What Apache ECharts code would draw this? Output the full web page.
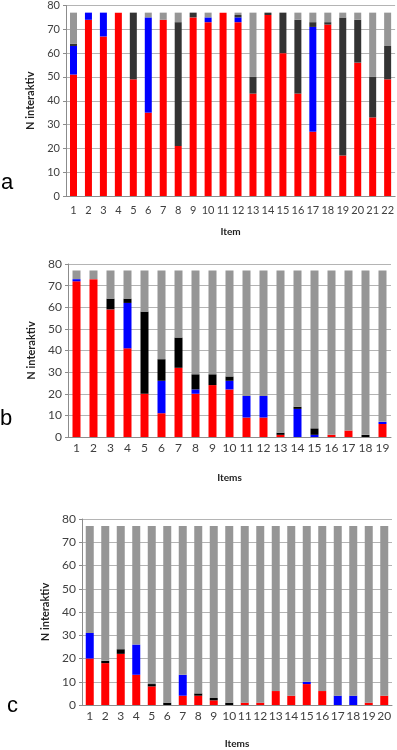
<!DOCTYPE html>
<html>
<head>
<meta charset="utf-8">
<script src="https://cdn.jsdelivr.net/npm/echarts@6/dist/echarts.min.js"></script>
<style>
  html, body { margin: 0; padding: 0; background: #fff; }
  #chart { width: 397px; height: 750px; }
</style>
</head>
<body>
<div id="chart"></div>
<script>
// panel a: 22 items
const itemsA = ['1','2','3','4','5','6','7','8','9','10','11','12','13','14','15','16','17','18','19','20','21','22']
const redA  = [51, 74, 67, 77, 49, 35, 74, 21, 75, 73, 77, 73, 43, 76, 60, 43, 27, 72, 17, 56, 33, 49]
const blueA = [12,  3, 10,  0,  0, 40,  0,  0,  0,  2,  0,  2,  0,  0,  0,  0, 44,  0,  0,  0,  0,  0]
const darkA = [ 1,  0,  0,  0, 28,  0,  0, 52,  2,  0,  0,  1,  7,  1, 17, 31,  2,  1, 58, 18, 17, 14]
const greyA = [13,  0,  0,  0,  0,  2,  3,  4,  0,  2,  0,  1, 27,  0,  0,  3,  4,  4,  2,  3, 27, 14]

// panel b: 19 items
const itemsB = ['1','2','3','4','5','6','7','8','9','10','11','12','13','14','15','16','17','18','19']
const redB  = [72, 73, 59, 41, 20, 11, 32, 20, 24, 22,  9,  9,  1,  0,  0,  1,  3,  0,  6]
const blueB = [ 1,  0,  0, 21,  0, 15,  0,  2,  0,  4, 10, 10,  0, 13,  1,  0,  0,  0,  1]
const darkB = [ 0,  0,  5,  2, 38, 10, 14,  7,  5,  2,  0,  0,  1,  1,  3,  0,  0,  1,  0]
const greyB = [ 4,  4, 13, 13, 19, 41, 31, 48, 48, 49, 58, 58, 75, 63, 73, 76, 74, 76, 70]

// panel c: 20 items
const itemsC = ['1','2','3','4','5','6','7','8','9','10','11','12','13','14','15','16','17','18','19','20']
const redC  = [20, 18, 22, 13,  8,  0,  4,  4,  2,  0,  1,  1,  6,  4,  9,  6,  0,  0,  1,  4]
const blueC = [11,  0,  0, 13,  0,  0,  9,  0,  0,  0,  0,  0,  0,  0,  1,  0,  4,  4,  0,  0]
const darkC = [ 0,  1,  2,  0,  1,  1,  0,  1,  1,  1,  0,  0,  0,  0,  0,  0,  0,  0,  0,  0]
const greyC = [46, 58, 53, 51, 68, 76, 64, 72, 74, 76, 76, 76, 71, 73, 67, 71, 73, 73, 76, 73]

const font = 'Lato, "Open Sans", sans-serif'
const gridColor = '#b4b4b4'
const axisColor = '#8c8c8c'

const panels = [
  { items: itemsA, parts: [redA, blueA, darkA, greyA], dark: '#333333', grid: { left: 66, right: 1, top: 4, height: 192 }, xName: 'Item', xGap: 31, yGap: 27, barWidth: 7, fs: 11, xMargin: 9 },
  { items: itemsB, parts: [redB, blueB, darkB, greyB], dark: '#000000', grid: { left: 68, right: 6, top: 264, height: 173 }, xName: 'Items', xGap: 36, yGap: 30, barWidth: 8, fs: 12, xMargin: 5 },
  { items: itemsC, parts: [redC, blueC, darkC, greyC], dark: '#000000', grid: { left: 82, right: 5, top: 519, height: 186 }, xName: 'Items', xGap: 34, yGap: 27, barWidth: 8, fs: 12, xMargin: 5 }
]

const grids = [], xAxes = [], yAxes = [], series = []

panels.forEach((p, i) => {
  grids.push(p.grid)
  xAxes.push({
    type: 'category', gridIndex: i, data: p.items,
    name: p.xName, nameLocation: 'middle', nameGap: p.xGap,
    nameTextStyle: { fontFamily: font, fontWeight: 'bold', fontSize: 10, color: '#222' },
    axisLine: { lineStyle: { color: axisColor } },
    axisTick: { length: 4, lineStyle: { color: axisColor } },
    axisLabel: { fontFamily: font, fontSize: p.fs, color: '#404040', margin: p.xMargin, interval: 0 }
  })
  yAxes.push({
    type: 'value', gridIndex: i, min: 0, max: 80, interval: 10,
    name: 'N interaktiv', nameLocation: 'middle', nameRotate: 90, nameGap: p.yGap,
    nameTextStyle: { fontFamily: font, fontWeight: 'bold', fontSize: 11, color: '#222' },
    axisLine: { show: true, lineStyle: { color: axisColor } },
    axisTick: { show: true, length: 3, lineStyle: { color: axisColor } },
    axisLabel: { fontFamily: font, fontSize: p.fs, color: '#404040', margin: 6 },
    splitLine: { lineStyle: { color: gridColor } }
  })
  const colors = ['#ff0000', '#0000ff', p.dark, '#969696']
  p.parts.forEach((vals, k) => {
    series.push({
      type: 'bar', xAxisIndex: i, yAxisIndex: i, stack: 'p' + i,
      data: vals, barWidth: p.barWidth,
      itemStyle: { color: colors[k] }
    })
  })
})

const letter = (txt, x, y) => ({
  type: 'text', left: x, top: y,
  style: { text: txt, fontFamily: 'Arial, "Liberation Sans", sans-serif', fontSize: 22, fill: '#000' }
})

const chart = echarts.init(document.getElementById('chart'))
chart.setOption({
  animation: false,
  grid: grids,
  xAxis: xAxes,
  yAxis: yAxes,
  series: series,
  graphic: [
    letter('a', 1, 172),
    letter('b', 0, 408),
    letter('c', 7, 695)
  ]
})
</script>
</body>
</html>
